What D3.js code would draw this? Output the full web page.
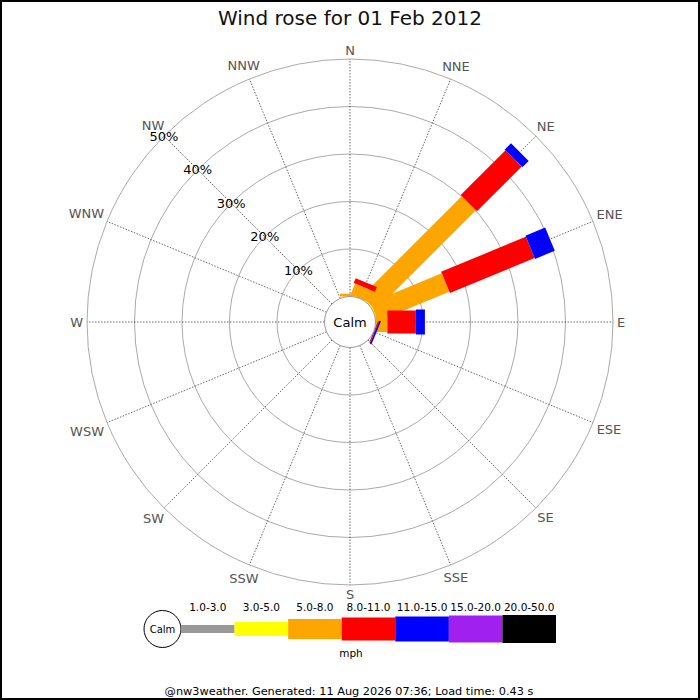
<!DOCTYPE html>
<html>
<head>
<meta charset="utf-8">
<script src="https://cdn.jsdelivr.net/npm/d3@7"></script>
<style>
  body { margin: 0; background: white; }
  svg { display: block; font-family: "DejaVu Sans", sans-serif; }
</style>
</head>
<body>
<div id="chart"></div>
<script>
// Data (percent of the day per direction / speed bin)
const directions = ["N","NNE","NE","ENE","E","ESE","SE","SSE","S","SSW","SW","WSW","W","WNW","NW","NNW"];
const bins = ["1.0-3.0","3.0-5.0","5.0-8.0","8.0-11.0","11.0-15.0","15.0-20.0","20.0-50.0"];
const binColors = ["#999999","#ffff00","#ffa500","#ff0000","#0000ff","#a020f0","#000000"];

const speed1to3   = [0,   0,   0,    0,    0,   0,    0,0,0,0,0,0,0,0,0,0];
const speed3to5   = [0,   0,   0.2,  0.2,  0,   0,    0,0,0,0,0,0,0,0,0,0];
const speed5to8   = [0.6, 2.5, 29.8, 16.2, 2.5, 0,    0,0,0,0,0,0,0,0,0,0];
const speed8to11  = [0,   1.1, 13.3, 19.3, 6.0, 0.25, 0,0,0,0,0,0,0,0,0,0];
const speed11to15 = [0,   0,   1.9,  4.5,  1.9, 0.35, 0,0,0,0,0,0,0,0,0,0];
const speed15to20 = [0,   0,   0,    0,    0,   0,    0,0,0,0,0,0,0,0,0,0];
const speed20to50 = [0,   0,   0,    0,    0,   0,    0,0,0,0,0,0,0,0,0,0];

const ringTicks = [10, 20, 30, 40, 50];
const title = "Wind rose for 01 Feb 2012";
const footer = "@nw3weather. Generated: 11 Aug 2026 07:36; Load time: 0.43 s";

function generateChart() {
  const width = 700, height = 700;
  const cx = 350, cy = 322;
  const calmR = 25.5, outerR = 263;
  const legWidths = [8, 14, 20, 23, 25, 27, 28];

  const series = [speed1to3, speed3to5, speed5to8, speed8to11, speed11to15, speed15to20, speed20to50];
  const rows = directions.map((d, i) => {
    const row = { dir: d };
    bins.forEach((b, j) => row[b] = series[j][i]);
    return row;
  });
  const stacked = d3.stack().keys(bins)(rows);

  const r = d3.scaleLinear().domain([0, 50]).range([calmR, outerR]);
  const angle = d3.scalePoint().domain(directions).range([0, 360 - 22.5]);
  const color = d3.scaleOrdinal(bins, binColors);
  const legW = d3.scaleOrdinal(bins, legWidths);

  const rad = a => a * Math.PI / 180;

  const svg = d3.select("#chart").append("svg")
    .attr("width", width)
    .attr("height", height)
    .attr("viewBox", [0, 0, width, height]);

  svg.append("rect")
    .attr("x", 1).attr("y", 1)
    .attr("width", width - 2).attr("height", height - 2)
    .attr("fill", "white")
    .attr("stroke", "black")
    .attr("stroke-width", 2);

  svg.append("text")
    .attr("x", cx).attr("y", 25)
    .attr("text-anchor", "middle")
    .attr("font-size", 20)
    .attr("fill", "#111")
    .text(title);

  const plot = svg.append("g").attr("transform", `translate(${cx},${cy})`);

  // rings
  plot.append("g")
    .selectAll("circle")
    .data(ringTicks)
    .join("circle")
    .attr("r", d => r(d))
    .attr("fill", "none")
    .attr("stroke", "#aaa")
    .attr("stroke-width", 1);

  // spokes
  plot.append("g")
    .selectAll("line")
    .data(directions)
    .join("line")
    .attr("x1", d => r(0) * Math.sin(rad(angle(d))))
    .attr("y1", d => -r(0) * Math.cos(rad(angle(d))))
    .attr("x2", d => r(50) * Math.sin(rad(angle(d))))
    .attr("y2", d => -r(50) * Math.cos(rad(angle(d))))
    .attr("stroke", "#444")
    .attr("stroke-width", 0.8)
    .attr("stroke-dasharray", "1.5,1.5");

  // legs, drawn layer by layer
  plot.append("g")
    .selectAll("g")
    .data(stacked)
    .join("g")
    .attr("fill", s => color(s.key))
    .each(function(s) {
      d3.select(this).selectAll("rect")
        .data(s.filter(p => p[1] - p[0] > 0))
        .join("rect")
        .attr("transform", p => `rotate(${angle(p.data.dir)})`)
        .attr("x", -legW(s.key) / 2)
        .attr("width", legW(s.key))
        .attr("y", p => -r(p[1]))
        .attr("height", p => r(p[1]) - r(p[0]));
    });

  // calm circle
  plot.append("circle")
    .attr("r", calmR)
    .attr("fill", "white")
    .attr("stroke", "#999")
    .attr("stroke-width", 1);
  plot.append("text")
    .attr("y", 0)
    .attr("dy", "0.35em")
    .attr("text-anchor", "middle")
    .attr("font-size", 13)
    .text("Calm");

  // direction labels
  plot.append("g")
    .selectAll("text")
    .data(directions)
    .join("text")
    .attr("text-anchor", "middle")
    .attr("dy", "0.36em")
    .attr("font-size", 13)
    .attr("fill", "#555")
    .text(d => d)
    .each(function(d) {
      const w = this.getComputedTextLength();
      const a = rad(angle(d));
      const lr = 267 + Math.abs(w / 2 * Math.sin(a)) + Math.abs(5 * Math.cos(a));
      d3.select(this)
        .attr("x", lr * Math.sin(a))
        .attr("y", -lr * Math.cos(a));
    });

  // percent labels along NW
  const nw = rad(angle("NW"));
  plot.append("g")
    .selectAll("text")
    .data(ringTicks)
    .join("text")
    .attr("x", d => r(d) * Math.sin(nw))
    .attr("y", d => -r(d) * Math.cos(nw))
    .attr("dy", "0.36em")
    .attr("text-anchor", "middle")
    .attr("font-size", 13)
    .attr("fill", "black")
    .text(d => d + "%");

  // legend
  const lx = d3.scaleBand().domain(bins).range([181, 556]);
  const ly = 629;
  const legend = svg.append("g");
  legend.append("circle")
    .attr("cx", 162.5).attr("cy", ly).attr("r", 18.5)
    .attr("fill", "white").attr("stroke", "black");
  legend.append("text")
    .attr("x", 162.5).attr("y", ly)
    .attr("dy", "0.35em")
    .attr("text-anchor", "middle")
    .attr("font-size", 10)
    .text("Calm");
  legend.selectAll("rect")
    .data(bins)
    .join("rect")
    .attr("x", d => lx(d))
    .attr("width", lx.bandwidth())
    .attr("y", d => ly - legW(d) / 2)
    .attr("height", d => legW(d))
    .attr("fill", d => color(d));
  legend.selectAll("text.lab")
    .data(bins)
    .join("text")
    .attr("class", "lab")
    .attr("x", d => lx(d) + lx.bandwidth() / 2)
    .attr("y", 611)
    .attr("text-anchor", "middle")
    .attr("font-size", 10.5)
    .text(d => d);
  legend.append("text")
    .attr("x", 351).attr("y", 657)
    .attr("text-anchor", "middle")
    .attr("font-size", 10.5)
    .text("mph");

  svg.append("text")
    .attr("x", 349).attr("y", 695)
    .attr("text-anchor", "middle")
    .attr("font-size", 11.3)
    .text(footer);

  return svg.node();
}

generateChart();
</script>
</body>
</html>
